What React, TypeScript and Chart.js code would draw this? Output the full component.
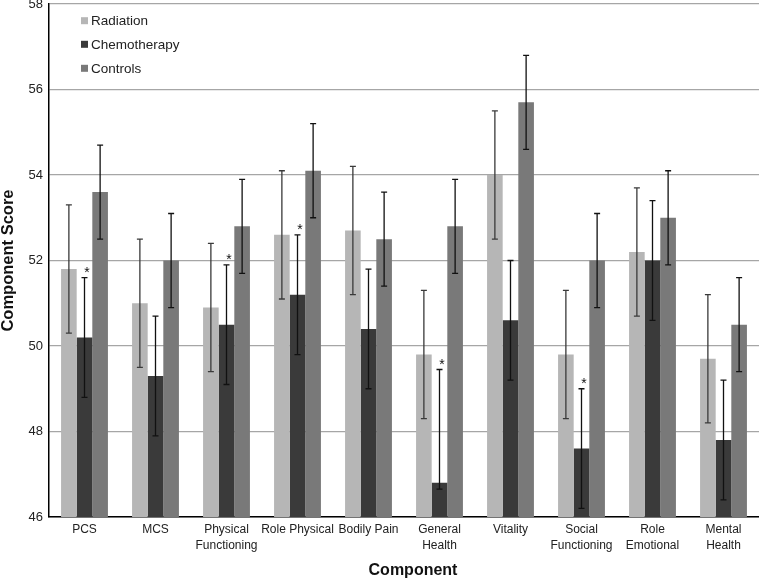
import React, { useEffect, useRef } from "react";
import { Chart, registerables } from "chart.js";

Chart.register(...registerables);

const categories: (string | string[])[] = [
  "PCS",
  "MCS",
  ["Physical", "Functioning"],
  "Role Physical",
  "Bodily Pain",
  ["General", "Health"],
  "Vitality",
  ["Social", "Functioning"],
  ["Role", "Emotional"],
  ["Mental", "Health"],
];

const seriesNames = ["Radiation", "Chemotherapy", "Controls"];
const seriesColors = ["#b6b6b6", "#3a3a3a", "#797979"];

const radiation = [51.8, 51.0, 50.9, 52.6, 52.7, 49.8, 54.0, 49.8, 52.2, 49.7];
const radiationLow = [50.3, 49.5, 49.4, 51.1, 51.2, 48.3, 52.5, 48.3, 50.7, 48.2];
const radiationHigh = [53.3, 52.5, 52.4, 54.1, 54.2, 51.3, 55.5, 51.3, 53.7, 51.2];

const chemotherapy = [50.2, 49.3, 50.5, 51.2, 50.4, 46.8, 50.6, 47.6, 52.0, 47.8];
const chemotherapyLow = [48.8, 47.9, 49.1, 49.8, 49.0, 46.65, 49.2, 46.2, 50.6, 46.4];
const chemotherapyHigh = [51.6, 50.7, 51.9, 52.6, 51.8, 49.45, 52.0, 49.0, 53.4, 49.2];

const controls = [53.6, 52.0, 52.8, 54.1, 52.5, 52.8, 55.7, 52.0, 53.0, 50.5];
const controlsLow = [52.5, 50.9, 51.7, 53.0, 51.4, 51.7, 54.6, 50.9, 51.9, 49.4];
const controlsHigh = [54.7, 53.1, 53.9, 55.2, 53.6, 53.9, 56.8, 53.1, 54.1, 51.6];

// asterisk above chemotherapy error bar
const significant = [true, false, true, true, false, true, false, true, false, false];

const yMin = 46;
const yMax = 58;
const yStep = 2;

const xTitle = "Component";
const yTitle = "Component Score";

const FONT = "'Liberation Sans', Arial, Helvetica, sans-serif";

const lows = [radiationLow, chemotherapyLow, controlsLow];
const highs = [radiationHigh, chemotherapyHigh, controlsHigh];

const errorBarPlugin = {
  id: "errorBars",
  afterDatasetsDraw(chart: any) {
    const ctx = chart.ctx;
    const yScale = chart.scales.y;
    ctx.save();
    chart.data.datasets.forEach((_ds: any, di: number) => {
      const meta = chart.getDatasetMeta(di);
      meta.data.forEach((el: any, i: number) => {
        const x = el.x;
        const yl = yScale.getPixelForValue(lows[di][i]);
        const yh = yScale.getPixelForValue(highs[di][i]);
        ctx.strokeStyle = di === 0 ? "#3a3a3a" : "#111";
        ctx.lineWidth = 1.3;
        ctx.beginPath();
        ctx.moveTo(x, yl);
        ctx.lineTo(x, yh);
        ctx.moveTo(x - 3, yl);
        ctx.lineTo(x + 3, yl);
        ctx.moveTo(x - 3, yh);
        ctx.lineTo(x + 3, yh);
        ctx.stroke();
        if (di === 1 && significant[i]) {
          ctx.fillStyle = "#111";
          ctx.font = `14px ${FONT}`;
          ctx.textAlign = "center";
          ctx.textBaseline = "alphabetic";
          ctx.fillText("*", x + 2.5, yh - 0.5);
        }
      });
    });
    ctx.restore();
  },
};

const legendPlugin = {
  id: "insideLegend",
  afterDraw(chart: any) {
    const ctx = chart.ctx;
    ctx.save();
    const rows = [20.7, 44.3, 68.3];
    seriesNames.forEach((name, i) => {
      ctx.fillStyle = seriesColors[i];
      ctx.fillRect(81, rows[i] - 3.5, 7, 7);
      ctx.fillStyle = "#222";
      ctx.font = `13.5px ${FONT}`;
      ctx.textAlign = "left";
      ctx.textBaseline = "middle";
      ctx.fillText(name, 91, rows[i] + 0.5);
    });
    // x axis title
    ctx.fillStyle = "#111";
    ctx.font = `bold 16px ${FONT}`;
    ctx.textAlign = "center";
    ctx.textBaseline = "middle";
    ctx.fillText(xTitle, 413, 570.5);
    ctx.restore();
  },
};

export default function App() {
  const canvasRef = useRef<HTMLCanvasElement | null>(null);

  useEffect(() => {
    if (!canvasRef.current) return;
    const values = [radiation, chemotherapy, controls];
    const chart = new Chart(canvasRef.current, {
      type: "bar",
      data: {
        labels: categories,
        datasets: seriesNames.map((name, i) => ({
          label: name,
          data: values[i],
          backgroundColor: seriesColors[i],
          borderWidth: 0,
          categoryPercentage: 0.66,
          barPercentage: 1.0,
        })),
      },
      options: {
        responsive: false,
        animation: false,
        layout: { padding: { top: 4, left: 0, right: 0, bottom: 0 } },
        plugins: {
          legend: { display: false },
          tooltip: { enabled: false },
        },
        scales: {
          x: {
            grid: { display: false, drawTicks: false },
            border: { display: true, color: "#000", width: 1.5 },
            ticks: {
              color: "#222",
              font: { family: FONT, size: 12, lineHeight: 1.33 },
              padding: 4.5,
              maxRotation: 0,
              autoSkip: false,
            },
            title: { display: false },
            afterFit(scale: any) {
              scale.height = 63;
              scale.paddingLeft = 0;
              scale.paddingRight = 0;
            },
          },
          y: {
            min: yMin,
            max: yMax,
            grid: { color: "#a6a6a6", lineWidth: 1.2, drawTicks: false },
            border: { display: true, color: "#000", width: 1.5 },
            ticks: {
              stepSize: yStep,
              color: "#222",
              font: { family: FONT, size: 13 },
              padding: 6,
            },
            title: {
              display: true,
              text: yTitle,
              color: "#111",
              font: { family: FONT, size: 16.5, weight: "bold", lineHeight: 1 },
              padding: 0,
            },
            afterFit(scale: any) {
              scale.width = 49;
              scale.paddingTop = 0;
              scale.paddingBottom = 0;
            },
          },
        },
      },
      plugins: [errorBarPlugin, legendPlugin],
    } as any);
    return () => chart.destroy();
  }, []);

  return (
    <div style={{ position: "absolute", left: 0, top: 0, width: 759, height: 580, background: "#fff" }}>
      <canvas ref={canvasRef} width={759} height={580} style={{ display: "block" }} />
    </div>
  );
}
